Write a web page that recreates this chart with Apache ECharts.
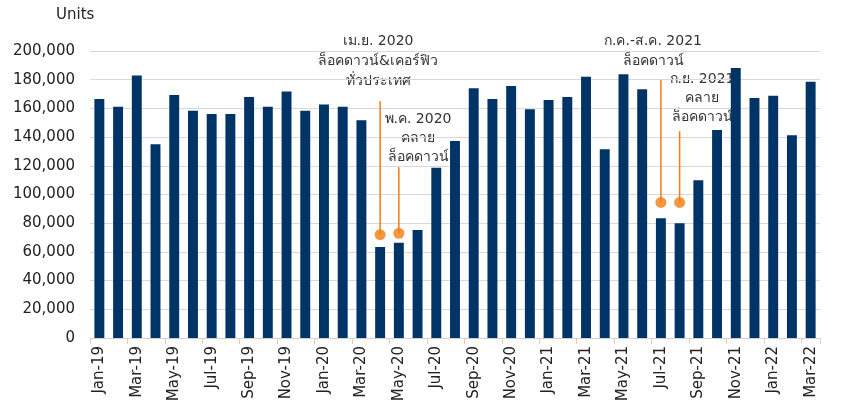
<!DOCTYPE html>
<html><head><meta charset="utf-8">
<script src="https://cdn.jsdelivr.net/npm/echarts@6/dist/echarts.min.js"></script>
<style>html,body{margin:0;padding:0;background:#fff}#c{width:854px;height:412px}</style>
</head><body><div id="c"></div>
<script>
var categories = ['Jan-19','Feb-19','Mar-19','Apr-19','May-19','Jun-19','Jul-19','Aug-19','Sep-19','Oct-19','Nov-19','Dec-19',
 'Jan-20','Feb-20','Mar-20','Apr-20','May-20','Jun-20','Jul-20','Aug-20','Sep-20','Oct-20','Nov-20','Dec-20',
 'Jan-21','Feb-21','Mar-21','Apr-21','May-21','Jun-21','Jul-21','Aug-21','Sep-21','Oct-21','Nov-21','Dec-21',
 'Jan-22','Feb-22','Mar-22'];
var units = [166500,161200,183000,135000,169300,158400,156100,156100,168000,161200,171700,158400,
 162800,161200,151700,63400,66400,75300,118700,137300,174000,166500,175600,159400,
 165900,168000,182000,131500,183800,173300,83400,79900,109900,145000,188200,167200,
 168800,141300,178600];
var yTicks = [0,20000,40000,60000,80000,100000,120000,140000,160000,180000,200000];
var eventCats = ['Apr-20','May-20','Jul-21','Aug-21'];
var eventDot = [72000,73000,94500,94500];
var eventTop = [165000,119000,180000,144000];
var eventText = ['เม.ย. 2020\nล็อคดาวน์&เคอร์ฟิว\nทั่วประเทศ','พ.ค. 2020\nคลาย\nล็อคดาวน์','ก.ค.-ส.ค. 2021\nล็อคดาวน์','ก.ย. 2021\nคลาย\nล็อคดาวน์'];

var FONT = 'Tahoma, "DejaVu Sans", "Noto Sans", sans-serif';
var ORANGE = '#f07d10';
var chart = echarts.init(document.getElementById('c'));
var lineSeries = eventCats.map(function(c,i){
  return {type:'line',data:[[c,eventDot[i]],[c,eventTop[i]]],symbol:'none',silent:true,
    color:ORANGE,lineStyle:{color:ORANGE,width:1.5},z:4};
});
chart.setOption({
  animation:false,
  textStyle:{fontFamily:FONT},
  grid:{left:90,right:34,top:51,bottom:74},
  xAxis:{type:'category',data:categories,boundaryGap:true,
    axisLine:{lineStyle:{color:'#d0d0d0'}},
    axisTick:{show:true,interval:1,alignWithLabel:false,length:6,lineStyle:{color:'#d0d0d0'}},
    axisLabel:{interval:1,rotate:90,color:'#222',fontSize:15,margin:8,fontFamily:FONT}},
  yAxis:{type:'value',min:yTicks[0],max:yTicks[yTicks.length-1],interval:20000,
    axisLine:{show:false},axisTick:{show:false},
    splitLine:{lineStyle:{color:'#d9d9d9'}},
    axisLabel:{color:'#222',fontSize:15,margin:15,fontFamily:FONT,formatter:function(v){return v.toLocaleString('en-US');}}},
  graphic:[
    {type:'text',left:56,top:8,style:{text:'Units',fill:'#222',font:'15px '+FONT}},
    {type:'text',x:378,y:31,style:{text:eventText[0],fill:'#333',font:'14px '+FONT,align:'center',lineHeight:20}},
    {type:'text',x:418,y:110,style:{text:eventText[1],fill:'#333',font:'14px '+FONT,align:'center',lineHeight:19}},
    {type:'text',x:653,y:31,style:{text:eventText[2],fill:'#333',font:'14px '+FONT,align:'center',lineHeight:20}},
    {type:'text',x:702,y:70,style:{text:eventText[3],fill:'#333',font:'14px '+FONT,align:'center',lineHeight:19}}
  ],
  series:[
    {type:'bar',data:units,barWidth:'53%',itemStyle:{color:'#003366'}},
    {type:'scatter',data:eventCats.map(function(c,i){return [c,eventDot[i]];}),symbolSize:11,
      itemStyle:{color:ORANGE},z:5}
  ].concat(lineSeries)
});
</script></body></html>
